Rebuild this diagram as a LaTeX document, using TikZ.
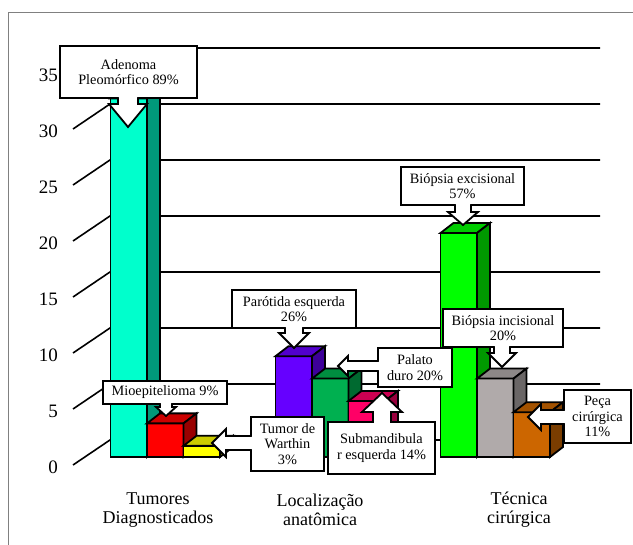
\documentclass[tikz,border=0pt]{standalone}
\usepackage{fontspec}
\setmainfont{Liberation Serif}
\usepackage{tikz}
\usetikzlibrary{calc}

\definecolor{cyanbar}{RGB}{0,255,204}
\definecolor{redbar}{RGB}{255,0,0}
\definecolor{yellowbar}{RGB}{255,255,0}
\definecolor{violetbar}{RGB}{102,0,255}
\definecolor{palatobar}{RGB}{0,176,80}
\definecolor{pinkbar}{RGB}{255,0,102}
\definecolor{limebar}{RGB}{0,255,0}
\definecolor{greybar}{RGB}{176,170,170}
\definecolor{orangebar}{RGB}{204,102,0}

% one 3d column: left x, value, colour
\newcommand{\colbar}[3]{%
  \pgfmathsetmacro\barTop{457-#2*11.2}
  \pgfmathsetmacro\barRight{#1+36.5}
  \filldraw[barline, fill=#3] (#1,457) rectangle (\barRight,\barTop);
  \filldraw[barline, fill=#3!80!black] (#1,\barTop) -- (#1+13,\barTop-10) -- (\barRight+13,\barTop-10) -- (\barRight,\barTop) -- cycle;
  \filldraw[barline, fill=#3!60!black] (\barRight,\barTop) -- (\barRight+13,\barTop-10) -- (\barRight+13,447) -- (\barRight,457) -- cycle;
}

% callout pointers: box, tip, shaft half width, head half width, head length
\newcommand{\calldown}[5]{%
  \filldraw[pointer] let \p1=(#2), \p2=(#1.south) in
    (\x1-#3pt,\y2) -- (\x1-#3pt,\y1+#5pt) -- (\x1-#4pt,\y1+#5pt) -- (\p1)
    -- (\x1+#4pt,\y1+#5pt) -- (\x1+#3pt,\y1+#5pt) -- (\x1+#3pt,\y2);
  \fill[white] let \p1=(#2), \p2=(#1.south) in
    (\x1-#3pt+1pt,\y2-1.5pt) rectangle (\x1+#3pt-1pt,\y2+1.5pt);
}
\newcommand{\callup}[5]{%
  \filldraw[pointer] let \p1=(#2), \p2=(#1.north) in
    (\x1-#3pt,\y2) -- (\x1-#3pt,\y1-#5pt) -- (\x1-#4pt,\y1-#5pt) -- (\p1)
    -- (\x1+#4pt,\y1-#5pt) -- (\x1+#3pt,\y1-#5pt) -- (\x1+#3pt,\y2);
  \fill[white] let \p1=(#2), \p2=(#1.north) in
    (\x1-#3pt+1pt,\y2-1.5pt) rectangle (\x1+#3pt-1pt,\y2+1.5pt);
}
\newcommand{\callleft}[5]{%
  \filldraw[pointer] let \p1=(#2), \p2=(#1.west) in
    (\x2,\y1+#3pt) -- (\x1+#5pt,\y1+#3pt) -- (\x1+#5pt,\y1+#4pt) -- (\p1)
    -- (\x1+#5pt,\y1-#4pt) -- (\x1+#5pt,\y1-#3pt) -- (\x2,\y1-#3pt);
  \fill[white] let \p1=(#2), \p2=(#1.west) in
    (\x2-1.5pt,\y1-#3pt+1pt) rectangle (\x2+1.5pt,\y1+#3pt-1pt);
}

\begin{document}
\begin{tikzpicture}[x=1pt, y=-1pt, line join=miter,
    barline/.style={draw=black, line width=1.8pt},
    gridline/.style={line width=1.6pt},
    pointer/.style={draw=black, fill=white, line width=1.8pt},
    lbl/.style={draw=black, fill=white, line width=1.8pt, align=center,
      inner sep=0pt, outer sep=0pt, font=\fontsize{14.3}{15.5}\selectfont},
    axlbl/.style={anchor=east, inner sep=0pt, font=\fontsize{19}{19}\selectfont},
    catlbl/.style={align=center, inner sep=0pt, font=\fontsize{18}{19}\selectfont}]
  \useasboundingbox (0,0) rectangle (633,545);
  \draw[gray, line width=1.2pt] (8.5,545) -- (8.5,12.5) -- (633,12.5);

  % walls and scale
  \foreach \v in {0,5,...,35} {
    \pgfmathsetmacro\gy{440-\v*11.2}
    \draw[gridline] (73,\gy+25) -- (110,\gy) -- (600,\gy);
    \node[axlbl] (y\v) at (58,\gy+27) {\v};
  }

  % columns
  \foreach \bx/\bv/\bc in {110.5/32/cyanbar, 147/3/redbar, 183.5/1/yellowbar,
      275.5/9/violetbar, 312/7/palatobar, 348.5/5/pinkbar,
      440.5/20/limebar, 477/7/greybar, 513.5/4/orangebar}
    \colbar{\bx}{\bv}{\bc};

  % callouts
  \node[lbl, minimum width=137pt, minimum height=52pt] (adenoma) at (128.5,72) {Adenoma\\Pleomórfico 89\%};
  \coordinate (adenomaTip) at (128,127);
  \calldown{adenoma}{adenomaTip}{10}{19}{23}

  \node[lbl, minimum width=124pt, minimum height=23pt] (mioep) at (165,392.5) {Mioepitelioma 9\%};
  \coordinate (mioepTip) at (166,416);
  \calldown{mioep}{mioepTip}{6}{10}{9}

  \node[lbl, minimum width=73pt, minimum height=54pt] (warthin) at (287.5,444) {Tumor de\\Warthin\\3\%};
  \coordinate (warthinTip) at (212,443);
  \callleft{warthin}{warthinTip}{7}{14}{14}

  \node[lbl, minimum width=124pt, minimum height=38pt] (parotida) at (294,309) {Parótida esquerda\\26\%};
  \coordinate (parotidaTip) at (294,348);
  \calldown{parotida}{parotidaTip}{9}{15}{15}

  \node[lbl, minimum width=74pt, minimum height=39pt] (palato) at (415,367.5) {Palato\\duro 20\%};
  \coordinate (palatoTip) at (338,366);
  \callleft{palato}{palatoTip}{5}{10}{10}

  \node[lbl, minimum width=107pt, minimum height=52pt] (submand) at (381.5,448) {Submandibula\\r esquerda 14\%};
  \coordinate (submandTip) at (382,393);
  \callup{submand}{submandTip}{9}{20}{19}

  \node[lbl, minimum width=123pt, minimum height=38pt] (excis) at (462.5,186) {Biópsia excisional\\57\%};
  \coordinate (excisTip) at (463,225);
  \calldown{excis}{excisTip}{8}{15}{13}

  \node[lbl, minimum width=120pt, minimum height=38pt] (incis) at (503,328) {Biópsia incisional\\20\%};
  \coordinate (incisTip) at (502,367);
  \calldown{incis}{incisTip}{8}{14}{14}

  \node[lbl, minimum width=67pt, minimum height=53pt] (peca) at (597.5,416.5) {Peça\\cirúrgica\\11\%};
  \coordinate (pecaTip) at (528,417);
  \callleft{peca}{pecaTip}{7}{13}{13}

  % categories
  \node[catlbl] (catTumor) at (158,510) {Tumores\\Diagnosticados};
  \node[catlbl] (catLocal) at (320,510) {Localização\\anatômica};
  \node[catlbl] (catTecn) at (519,510) {Técnica\\cirúrgica};
\end{tikzpicture}
\end{document}
